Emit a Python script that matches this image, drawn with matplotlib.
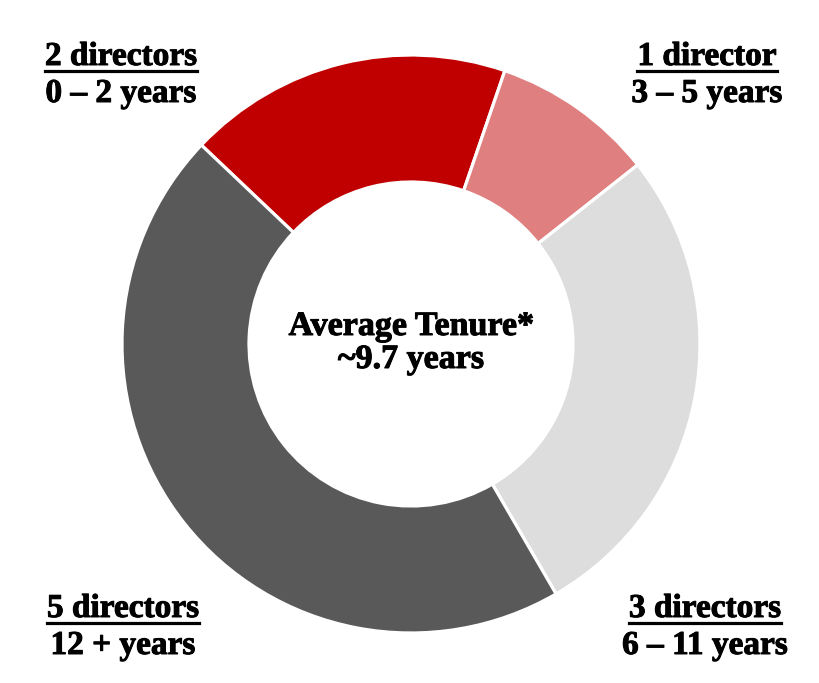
import matplotlib
matplotlib.use('Agg')
import matplotlib.pyplot as plt
import matplotlib.patheffects as pe
from matplotlib.lines import Line2D

# director tenure breakdown
groups = ['0 – 2 years', '3 – 5 years', '6 – 11 years', '12 + years']
directors = [2, 1, 3, 5]
headers = ['2 directors', '1 director', '3 directors', '5 directors']
colors = ['#C00000', '#E07F80', '#DDDDDD', '#595959']
center_text = ['Average Tenure*', '~9.7 years']

W, H = 819, 683
fig = plt.figure(figsize=(W / 100, H / 100), dpi=100)
ax = fig.add_axes([0, 0, 1, 1])

cx, cy = 411, 344
ax.pie(directors, colors=colors, startangle=136.5, counterclock=False,
       radius=289, center=(cx, H - cy),
       wedgeprops=dict(width=127, edgecolor='white', linewidth=2.3))
ax.set_xlim(0, W)
ax.set_ylim(0, H)
ax.set_aspect('equal')
ax.axis('off')

heavy = [pe.withStroke(linewidth=0.7, foreground='black')]
font = dict(family='Liberation Serif', weight='bold', color='black', path_effects=heavy)

# label positions (x center, baseline of first line) in pixels from top
label_pos = [(121, 65), (707, 65), (705, 617), (123, 617)]
header_txt = []
for (x, y), head, grp in zip(label_pos, headers, groups):
    t = ax.text(x, H - y, head, ha='center', va='baseline', fontsize=24, **font)
    header_txt.append(t)
    ax.text(x, H - y - 37, grp, ha='center', va='baseline', fontsize=24, **font)

ax.text(cx, H - 335, center_text[0], ha='center', va='baseline', fontsize=24.5, **font)
ax.text(cx, H - 368, center_text[1], ha='center', va='baseline', fontsize=24.5, **font)

# underline the header lines
fig.canvas.draw()
r = fig.canvas.get_renderer()
inv = ax.transData.inverted()
for t in header_txt:
    bb = t.get_window_extent(r)
    x0 = inv.transform((bb.x0, 0))[0]
    x1 = inv.transform((bb.x1, 0))[0]
    yb = t.get_position()[1] - 6
    ax.add_line(Line2D([x0, x1], [yb, yb], color='black', linewidth=2.3))

fig.savefig('out.png', dpi=100)
